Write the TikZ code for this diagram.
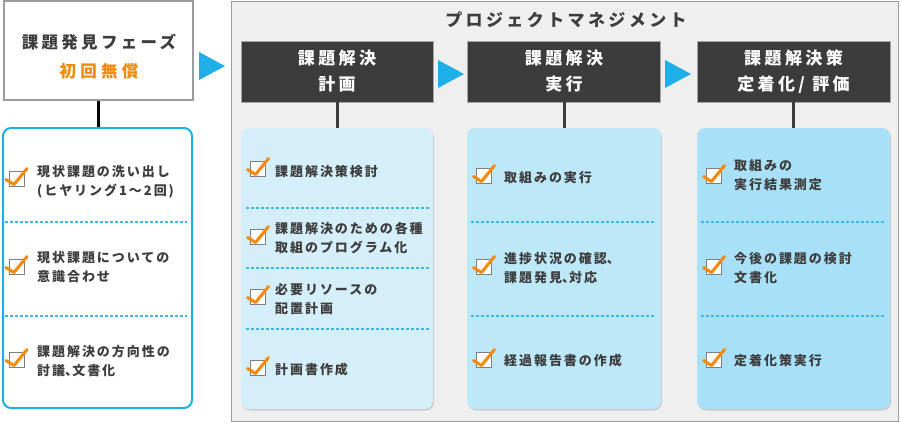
\documentclass[tikz,border=0pt]{standalone}
\usepackage{fontspec}
\setmainfont{Noto Sans CJK JP}
\newfontfamily\jpA[LetterSpace=15]{Noto Sans CJK JP}
\newfontfamily\jpB[LetterSpace=20]{Noto Sans CJK JP}
\newfontfamily\jpC[LetterSpace=26]{Noto Sans CJK JP}
\usetikzlibrary{shadows}
\definecolor{txt}{HTML}{3D3D3D}
\definecolor{dark}{HTML}{3C3C3C}
\definecolor{panelfill}{HTML}{EFEFEF}
\definecolor{panelline}{HTML}{9C9C9C}
\definecolor{arrowblue}{HTML}{1FAFE8}
\definecolor{orng}{HTML}{F58A0A}
\definecolor{dashblue}{HTML}{3BB8EC}
\definecolor{lone}{HTML}{D5EFFA}
\definecolor{ltwo}{HTML}{BCE8F8}
\definecolor{lthree}{HTML}{A8E0F8}
\newcommand\hcomma{\makebox[0.55em][l]{、}}
\tikzset{
  topbox/.style={draw=panelline, line width=1.2pt, fill=white, inner sep=0pt},
  leftlist/.style={draw=arrowblue, line width=2pt, fill=white, rounded corners=8pt, inner sep=0pt},
  panelbox/.style={draw=panelline, line width=1pt, fill=panelfill, inner sep=0pt},
  headbox/.style={draw=black!35, line width=0.6pt, fill=dark, text=white, align=center, inner sep=0pt,
    font=\jpB\bfseries\fontsize{17}{26}\selectfont},
  listbox/.style={rounded corners=8pt, inner sep=0pt,
    drop shadow={shadow xshift=1pt, shadow yshift=-1.5pt, fill=black!30, opacity=.6}},
  item/.style={anchor=west, align=left, inner sep=0pt, text=txt,
    font=\jpA\bfseries\fontsize{13}{19}\selectfont},
  sep/.style={dashblue, line width=1.3pt, dash pattern=on 3pt off 2pt},
  conn/.style={line width=3pt, dark},
  cbox/.style={draw=black!50, line width=1pt, fill=white},
  cline/.style={draw=orng, line width=3pt, line cap=round, line join=round},
  tri/.style={fill=arrowblue}
}
\newcommand\chkmark[2]{%
  \begin{scope}[shift={(#1,#2)}]
    \draw[cbox] (-7.5,-7.5) rectangle (7.5,7.5);
    \draw[cline] (-10.5,0.5) -- (-2.5,5.5) -- (10.5,-10.5);
  \end{scope}}
\begin{document}
\begin{tikzpicture}[x=1pt,y=-1pt]
\useasboundingbox (0,0) rectangle (901,424);
\fill[white] (0,0) rectangle (901,424);

% left column
\node[topbox, minimum width=189pt, minimum height=99pt] (top) at (98.5,50.5) {};
\node[text=txt, inner sep=0pt, font=\jpB\bfseries\fontsize{16.5}{20}\selectfont] (ttl) at (99,42) {課題発見フェーズ};
\node[text=orng, inner sep=0pt, font=\jpC\bfseries\fontsize{16.5}{20}\selectfont] (free) at (99,71) {初回無償};
\node[leftlist, minimum width=189pt, minimum height=280pt] (left) at (97.5,268) {};
\draw[line width=2.5pt, black] (top.south) -- (top.south |- left.north);

\draw[sep] (5,222) -- (187,222);
\draw[sep] (5,316) -- (187,316);
\chkmark{16.5}{179}
\node[item] (a1) at (37,181.5) {現状課題の洗い出し\\(ヒヤリング1〜2回)};
\chkmark{16.5}{267}
\node[item] (a2) at (37,267.5) {現状課題についての\\意識合わせ};
\chkmark{16.5}{360}
\node[item] (a3) at (37,361.5) {課題解決の方向性の\\討議\hcomma 文書化};

% arrow to panel
\fill[tri] (199,52) -- (225,66) -- (199,80) -- cycle;

% panel
\node[panelbox, minimum width=667pt, minimum height=420pt] (panel) at (564.5,211) {};
\node[text=txt, inner sep=0pt, font=\jpB\bfseries\fontsize{17}{20}\selectfont] (pmt) at (566,20) {プロジェクトマネジメント};

\node[headbox, minimum width=192pt, minimum height=61pt] (h1) at (337,71.5) {課題解決\\計画};
\node[headbox, minimum width=193pt, minimum height=61pt] (h2) at (564,71.5) {課題解決\\実行};
\node[headbox, minimum width=193pt, minimum height=61pt] (h3) at (793.5,71.5) {課題解決策\\定着化/ 評価};

\fill[tri] (438,60) -- (464,74) -- (438,88) -- cycle;
\fill[tri] (665,60) -- (691,74) -- (665,88) -- cycle;

\node[listbox, fill=lone, minimum width=192pt, minimum height=281pt] (l1) at (337,268.5) {};
\node[listbox, fill=ltwo, minimum width=194pt, minimum height=281pt] (l2) at (564,268.5) {};
\node[listbox, fill=lthree, minimum width=193pt, minimum height=281pt] (l3) at (793.5,268.5) {};

\draw[conn] (h1.south) -- (h1.south |- l1.north);
\draw[conn] (h2.south) -- (h2.south |- l2.north);
\draw[conn] (h3.south) -- (h3.south |- l3.north);

% list 1
\draw[sep] (246,208) -- (429,208);
\draw[sep] (246,268) -- (429,268);
\draw[sep] (246,329) -- (429,329);
\chkmark{258}{169}
\node[item] (b1) at (275,172) {課題解決策検討};
\chkmark{258}{237}
\node[item] (b2) at (275,238.5) {課題解決のための各種\\取組のプログラム化};
\chkmark{258}{297}
\node[item] (b3) at (275,299) {必要リソースの\\配置計画};
\chkmark{258}{368}
\node[item] (b4) at (275,370) {計画書作成};

% list 2
\draw[sep] (471,222) -- (655,222);
\draw[sep] (471,316) -- (655,316);
\chkmark{484}{176}
\node[item] (c1) at (504,178) {取組みの実行};
\chkmark{484}{267}
\node[item] (c2) at (504,268.5) {進捗状況の確認\hcomma\\課題発見\hcomma 対応};
\chkmark{484}{360}
\node[item] (c3) at (504,361) {経過報告書の作成};

% list 3
\draw[sep] (701,222) -- (885,222);
\draw[sep] (701,316) -- (885,316);
\chkmark{714}{176}
\node[item] (d1) at (734,175.5) {取組みの\\実行結果測定};
\chkmark{714}{267}
\node[item] (d2) at (734,268.5) {今後の課題の検討\\文書化};
\chkmark{714}{360}
\node[item] (d3) at (734,361) {定着化策実行};
\end{tikzpicture}
\end{document}
